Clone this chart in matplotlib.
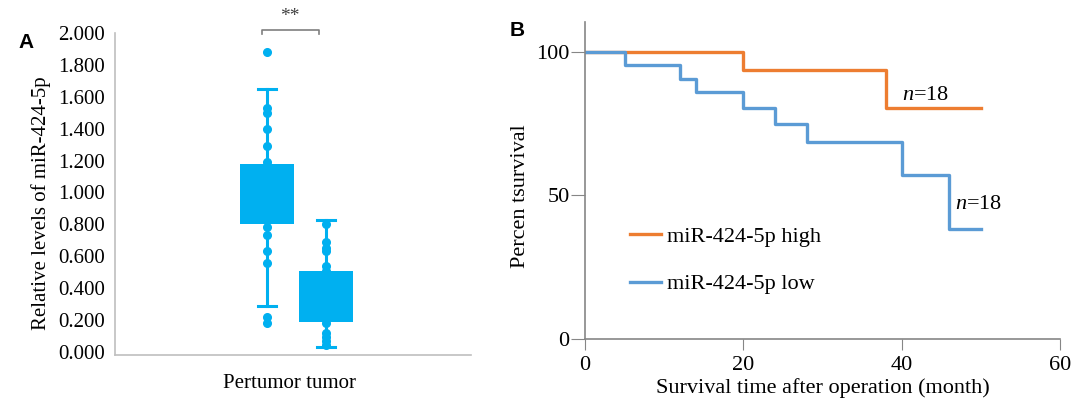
import matplotlib
matplotlib.use("Agg")
import matplotlib.pyplot as plt

plt.rcParams["font.family"] = ["Liberation Serif", "DejaVu Serif"]
plt.rcParams["mathtext.fontset"] = "custom"
plt.rcParams["mathtext.rm"] = "Liberation Serif"
plt.rcParams["mathtext.it"] = "Liberation Serif:italic"

# ---------- Panel A data (box summary + individual dots) ----------
groups = ["Pertumor", "tumor"]
box_q1 = [0.80, 0.19]
box_q3 = [1.18, 0.51]
box_med = [0.98, 0.34]
box_whislo = [0.29, 0.03]
box_whishi = [1.65, 0.83]
box_fliers = [[1.88, 0.22, 0.18], []]
dots_pertumor = [1.53, 1.50, 1.40, 1.29, 1.19, 0.78, 0.73, 0.63, 0.56]
dots_tumor = [0.80, 0.69, 0.65, 0.63, 0.54, 0.51, 0.18, 0.12, 0.09, 0.065, 0.045]
yticks_a = [0.0, 0.2, 0.4, 0.6, 0.8, 1.0, 1.2, 1.4, 1.6, 1.8, 2.0]

# ---------- Panel B data (Kaplan-Meier steps) ----------
time_high = [0, 20, 38, 50]
surv_high = [100, 93.6, 80.5, 80.5]
time_low = [0, 5, 12, 14, 20, 24, 28, 40, 46, 50]
surv_low = [100, 95.2, 90.5, 85.9, 80.5, 74.7, 68.5, 57.1, 38.2, 38.2]
xticks_b = [0, 20, 40, 60]
yticks_b = [0, 50, 100]

BOX_C = "#00B0F0"
ORANGE = "#ED7D31"
BLUE = "#5B9BD5"

fig = plt.figure(figsize=(10.72, 4.0), dpi=100)

# ---------- Panel A ----------
ax_a = fig.add_axes([115 / 1072, 45 / 400, 356 / 1072, 322 / 400])
pos = [1, 2]
stats = []
for i in range(len(groups)):
    stats.append(dict(q1=box_q1[i], q3=box_q3[i], med=box_med[i],
                      whislo=box_whislo[i], whishi=box_whishi[i],
                      fliers=box_fliers[i]))
ax_a.bxp(stats, positions=pos, widths=0.93, capwidths=0.3,
         patch_artist=True, showfliers=True,
         boxprops=dict(facecolor=BOX_C, edgecolor=BOX_C, linewidth=0),
         medianprops=dict(color=BOX_C, linewidth=0),
         whiskerprops=dict(color=BOX_C, linewidth=2.2),
         capprops=dict(color=BOX_C, linewidth=2.2),
         flierprops=dict(marker="o", markerfacecolor=BOX_C,
                         markeredgecolor=BOX_C, markersize=5.5))
ax_a.plot([pos[0]] * len(dots_pertumor), dots_pertumor, "o", color=BOX_C, ms=5.5)
ax_a.plot([pos[1]] * len(dots_tumor), dots_tumor, "o", color=BOX_C, ms=5.5)

ax_a.set_xlim(-1.576, 4.458)
ax_a.set_ylim(-0.02, 2.0)
ax_a.set_yticks(yticks_a)
ax_a.set_yticklabels([f"{v:.3f}" for v in yticks_a], fontsize=15)
ax_a.set_xticks([])
ax_a.tick_params(axis="y", length=0, pad=7)
for s in ["top", "right"]:
    ax_a.spines[s].set_visible(False)
for s in ["left", "bottom"]:
    ax_a.spines[s].set_color("#BFBFBF")
    ax_a.spines[s].set_linewidth(1.2)
ax_a.set_ylabel("Relative levels of miR-424-5p", fontsize=15)
ax_a.yaxis.set_label_coords(-0.18, 0.47)
ax_a.set_xlabel("Pertumor tumor", fontsize=15)
ax_a.xaxis.set_label_coords(0.49, -0.06)

# significance bracket
bx0, bx1, by = 0.91, 1.88, 2.02
ax_a.plot([bx0, bx0, bx1, bx1], [by - 0.025, by, by, by - 0.025],
          color="#7F7F7F", lw=1.2, clip_on=False)
ax_a.text((bx0 + bx1) / 2, by + 0.03, "**", ha="center", va="bottom",
          fontsize=14, color="#404040")

fig.text(18 / 1072, 1 - 42 / 400, "A", fontsize=15, fontweight="bold",
         family="Liberation Sans", va="center", ha="left")

# ---------- Panel B ----------
ax_b = fig.add_axes([585 / 1072, 60.7 / 400, 475 / 1072, 317.6 / 400])
ax_b.step(time_high, surv_high, where="post", color=ORANGE, lw=2.4,
          label="miR-424-5p high")
ax_b.step(time_low, surv_low, where="post", color=BLUE, lw=2.4,
          label="miR-424-5p low")
ax_b.set_xlim(0, 60)
ax_b.set_ylim(0, 110.4)
ax_b.set_xticks(xticks_b)
ax_b.set_yticks(yticks_b)
ax_b.tick_params(axis="both", labelsize=16, color="#868686", direction="out")
ax_b.tick_params(axis="y", length=10, pad=1)
ax_b.tick_params(axis="x", length=8, pad=4)
for s in ["top", "right"]:
    ax_b.spines[s].set_visible(False)
for s in ["left", "bottom"]:
    ax_b.spines[s].set_color("#868686")
    ax_b.spines[s].set_linewidth(1.2)
ax_b.set_ylabel("Percen tsurvival", fontsize=16)
ax_b.yaxis.set_label_coords(-0.115, 0.45)
ax_b.set_xlabel("Survival time after operation (month)", fontsize=16, labelpad=2)

ax_b.text(40.1, 84.9, "$n$=18", fontsize=16, ha="left", va="center")
ax_b.text(46.7, 47.0, "$n$=18", fontsize=16, ha="left", va="center")

ax_b.legend(loc="upper left", bbox_to_anchor=(0.095, 0.355), frameon=False,
            fontsize=16, handlelength=1.4, handletextpad=0.25,
            labelspacing=1.2, borderpad=0, borderaxespad=0)

fig.text(510 / 1072, 1 - 30 / 400, "B", fontsize=15, fontweight="bold",
         family="Liberation Sans", va="center", ha="left")

fig.savefig("out.png", dpi=100)
